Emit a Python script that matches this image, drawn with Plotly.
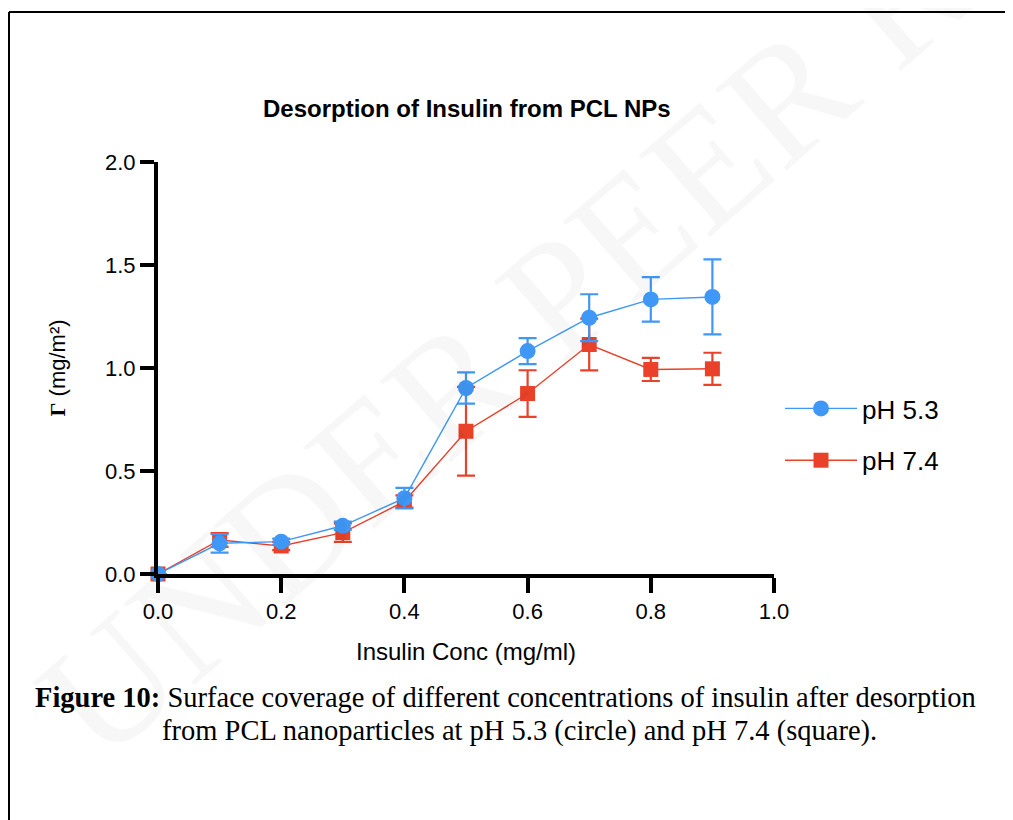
import plotly.graph_objects as go

# ---- data ----
conc = [0.0, 0.1, 0.2, 0.3, 0.4, 0.5, 0.6, 0.7, 0.8, 0.9]
ph53 = [0.0, 0.149, 0.157, 0.234, 0.368, 0.903, 1.082, 1.244, 1.333, 1.345]
ph53_err = [0.0, 0.045, 0.015, 0.02, 0.05, 0.076, 0.063, 0.114, 0.108, 0.182]
ph74 = [0.0, 0.165, 0.136, 0.201, 0.352, 0.693, 0.876, 1.114, 0.993, 0.996]
ph74_err = [0.0, 0.033, 0.02, 0.045, 0.03, 0.215, 0.113, 0.126, 0.056, 0.078]

x_ticks = [0.0, 0.2, 0.4, 0.6, 0.8, 1.0]
y_ticks = [0.0, 0.5, 1.0, 1.5, 2.0]

BLUE = "#3f97f6"
RED = "#e9412a"

# page offset (browser body margin) and figure size
OFF = 8
W, H = 1013 - OFF, 820 - OFF
# plot area in page pixels
L, R, T, B = 158 - OFF, 774 - OFF, 162 - OFF, 574 - OFF


def px(xp):  # page x -> paper
    return (xp - OFF - L) / (R - L)


def py(yp):  # page y -> paper
    return (B - (yp - OFF)) / (B - T)


fig = go.Figure()

fig.add_trace(go.Scatter(
    x=conc, y=ph74, name="pH 7.4", mode="lines+markers",
    line=dict(color=RED, width=1.4),
    marker=dict(symbol="square", size=15, color=RED),
    error_y=dict(type="data", array=ph74_err, color=RED, thickness=2.2, width=9),
    cliponaxis=False, legendgroup="b", legendrank=2,
))
fig.add_trace(go.Scatter(
    x=conc, y=ph53, name="pH 5.3", mode="lines+markers",
    line=dict(color=BLUE, width=1.4),
    marker=dict(symbol="circle", size=16, color=BLUE),
    error_y=dict(type="data", array=ph53_err, color=BLUE, thickness=2.2, width=9),
    cliponaxis=False, legendgroup="a", legendrank=1,
))

SANS = "Liberation Sans, Arial, sans-serif"
SERIF = "Liberation Serif, Times New Roman, serif"
axis_font = dict(family=SANS, size=22, color="black")

fig.update_xaxes(
    range=[0, 1], tickvals=x_ticks, ticktext=[f"{v:.1f}" for v in x_ticks],
    showline=True, linecolor="black", linewidth=4,
    ticks="outside", ticklen=15, tickwidth=4, tickcolor="black",
    showgrid=False, zeroline=False, tickfont=axis_font,
    title=dict(text="Insulin Conc (mg/ml)", font=dict(family=SANS, size=24, color="black"), standoff=21),
)
fig.update_yaxes(
    range=[0, 2], tickvals=y_ticks, ticktext=[f"{v:.1f}" for v in y_ticks],
    showline=True, linecolor="black", linewidth=4,
    ticks="outside", ticklen=14, tickwidth=4, tickcolor="black",
    showgrid=False, zeroline=False, tickfont=axis_font,
    title=dict(text="<b><span style='font-family:Liberation Serif'>Γ</span></b> (mg/m²)",
               font=dict(family=SANS, size=22, color="black"), standoff=34),
)

annotations = [
    # watermark
    dict(text="UNDER PEER REVIEW", x=px(704), y=py(168), xref="paper", yref="paper",
         showarrow=False, textangle=-41, xanchor="center", yanchor="middle",
         font=dict(family="Liberation Serif, serif", size=165, color="rgba(0,0,0,0.03)")),
    # chart title
    dict(text="<b>Desorption of Insulin from PCL NPs</b>", x=px(467), y=py(108),
         xref="paper", yref="paper", showarrow=False, xanchor="center", yanchor="middle",
         font=dict(family=SANS, size=24, color="black")),
    # caption
    dict(text="<b>Figure 10:</b> Surface coverage of different concentrations of insulin after desorption",
         x=px(505), y=py(697), xref="paper", yref="paper", showarrow=False,
         xanchor="center", yanchor="middle",
         font=dict(family=SERIF, size=28.5, color="black")),
    dict(text="from PCL nanoparticles at pH 5.3 (circle) and pH 7.4 (square).",
         x=px(519), y=py(731), xref="paper", yref="paper", showarrow=False,
         xanchor="center", yanchor="middle",
         font=dict(family=SERIF, size=28.5, color="black")),
]

shapes = [
    dict(type="line", xref="paper", yref="paper", x0=px(OFF + 1), x1=px(1013), y0=py(12), y1=py(12),
         line=dict(color="black", width=2)),
    dict(type="line", xref="paper", yref="paper", x0=px(OFF + 1), x1=px(OFF + 1), y0=py(12), y1=py(820),
         line=dict(color="black", width=2)),
]

fig.update_layout(
    width=W, height=H,
    margin=dict(l=L, r=W - R, t=T, b=H - B, autoexpand=False),
    plot_bgcolor="white", paper_bgcolor="white",
    showlegend=True,
    legend=dict(x=px(780), y=py(385), xanchor="left", yanchor="top",
                font=dict(family=SANS, size=26, color="black"),
                itemwidth=72, tracegroupgap=15, bgcolor="rgba(0,0,0,0)"),
    annotations=annotations, shapes=shapes,
)

fig.write_html("out.html")
